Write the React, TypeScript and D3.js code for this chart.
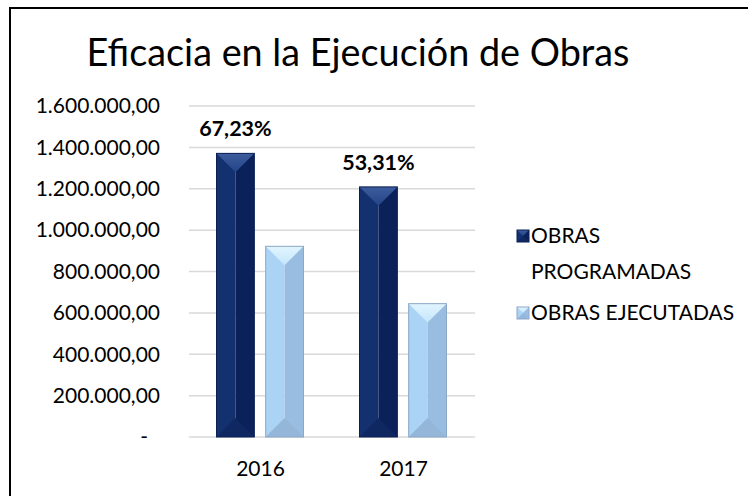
import React from "react";
import * as d3 from "d3";

const categories = ["2016", "2017"];
const seriesNames = ["OBRAS PROGRAMADAS", "OBRAS EJECUTADAS"];
const programadas = [1371000, 1209000];
const ejecutadas = [921700, 644500];
const percentLabels = ["67,23%", "53,31%"];
const yTicks = [0, 200000, 400000, 600000, 800000, 1000000, 1200000, 1400000, 1600000];
const title = "Eficacia en la Ejecución de Obras";

const W = 748;
const H = 496;
const FONT = "Lato, 'Open Sans', sans-serif";

const palettes = [
  { left: "#13306f", right: "#0a2259", top: "#3d5c9c", topIn: "#24448a", bottom: "#0f2862", stroke: "#0b1f55" },
  { left: "#abd3f6", right: "#99bde0", top: "#e2f5ff", topIn: "#c4e6fb", bottom: "#94b7d9", stroke: "#8ba8c6" },
];

function fmt(v: number) {
  if (v === 0) return "-";
  const s = d3.format(",.2f")(v);
  return s.replace(/,/g, "#").replace(".", ",").replace(/#/g, ".");
}

function BevelBar({ x, y, w, h, p, id }: { x: number; y: number; w: number; h: number; p: any; id: string }) {
  const b = Math.min(w / 2, h / 2);
  const cx = x + w / 2;
  return (
    <g>
      <defs>
        <linearGradient id={id} x1="0" y1="0" x2="0" y2="1">
          <stop offset="0" stopColor={p.top} />
          <stop offset="1" stopColor={p.topIn} />
        </linearGradient>
      </defs>
      <rect x={x} y={y} width={w / 2} height={h} fill={p.left} />
      <rect x={cx} y={y} width={w / 2} height={h} fill={p.right} />
      <polygon points={`${x},${y + h} ${x + w},${y + h} ${cx},${y + h - b}`} fill={p.bottom} />
      <polygon points={`${x},${y} ${x + w},${y} ${cx},${y + b}`} fill={`url(#${id})`} />
      <rect x={x} y={y} width={w} height={h} fill="none" stroke={p.stroke} strokeWidth={1} />
    </g>
  );
}

export default function App() {
  const plotLeft = 189;
  const plotRight = 475;
  const y = d3.scaleLinear().domain([0, 1600000]).range([437, 106]);
  const x0 = d3.scaleBand<string>().domain(categories).range([plotLeft, plotRight]);
  const x1 = d3.scaleBand<string>().domain(seriesNames).range([27.5, 114.5]).paddingInner(0.23);
  const seriesData = [programadas, ejecutadas];

  return (
    <svg width={W} height={H} style={{ position: "absolute", left: 0, top: 0, background: "#fff" }}>
      <rect x={0} y={0} width={W} height={H} fill="#fff" />
      <rect x={10} y={8} width={W + 20} height={H + 20} fill="#fff" stroke="#000" strokeWidth={2} />
      <text x={358} y={66} textAnchor="middle" fontFamily={FONT} fontSize={37.8} fill="#000">
        {title}
      </text>
      {yTicks.map((t) => (
        <g key={t}>
          <line x1={plotLeft} x2={plotRight} y1={y(t)} y2={y(t)} stroke="#d9d9d9" strokeWidth={1.5} />
          <text
            x={t === 0 ? 148 : 160}
            y={y(t)}
            dy="0.35em"
            textAnchor="end"
            fontFamily={FONT}
            fontSize={21}
            fill="#000"
          >
            {fmt(t)}
          </text>
        </g>
      ))}
      {categories.map((c, ci) => (
        <g key={c}>
          {seriesNames.map((s, si) => {
            const v = seriesData[si][ci];
            const bx = (x0(c) as number) + (x1(s) as number);
            const by = y(v);
            return (
              <BevelBar key={s} id={`g${ci}${si}`} x={bx} y={by} w={x1.bandwidth()} h={y(0) - by} p={palettes[si]} />
            );
          })}
          <text
            x={(x0(c) as number) + (x1(seriesNames[0]) as number) + x1.bandwidth() / 2}
            y={y(programadas[ci]) - 17}
            textAnchor="middle"
            fontFamily={FONT}
            fontWeight="bold"
            fontSize={21.5}
            fill="#000"
          >
            {percentLabels[ci]}
          </text>
          <text
            x={(x0(c) as number) + x0.bandwidth() / 2}
            y={476}
            textAnchor="middle"
            fontFamily={FONT}
            fontSize={21}
            fill="#000"
          >
            {c}
          </text>
        </g>
      ))}
      <g>
        <BevelBar id="lg0" x={517} y={230} w={12} h={12} p={palettes[0]} />
        <text x={531} y={243} fontFamily={FONT} fontSize={21} fill="#000">OBRAS</text>
        <text x={531} y={279} fontFamily={FONT} fontSize={21} fill="#000">PROGRAMADAS</text>
        <BevelBar id="lg1" x={517} y={307} w={12} h={12} p={palettes[1]} />
        <text x={531} y={320} fontFamily={FONT} fontSize={21} fill="#000">{seriesNames[1]}</text>
      </g>
    </svg>
  );
}
